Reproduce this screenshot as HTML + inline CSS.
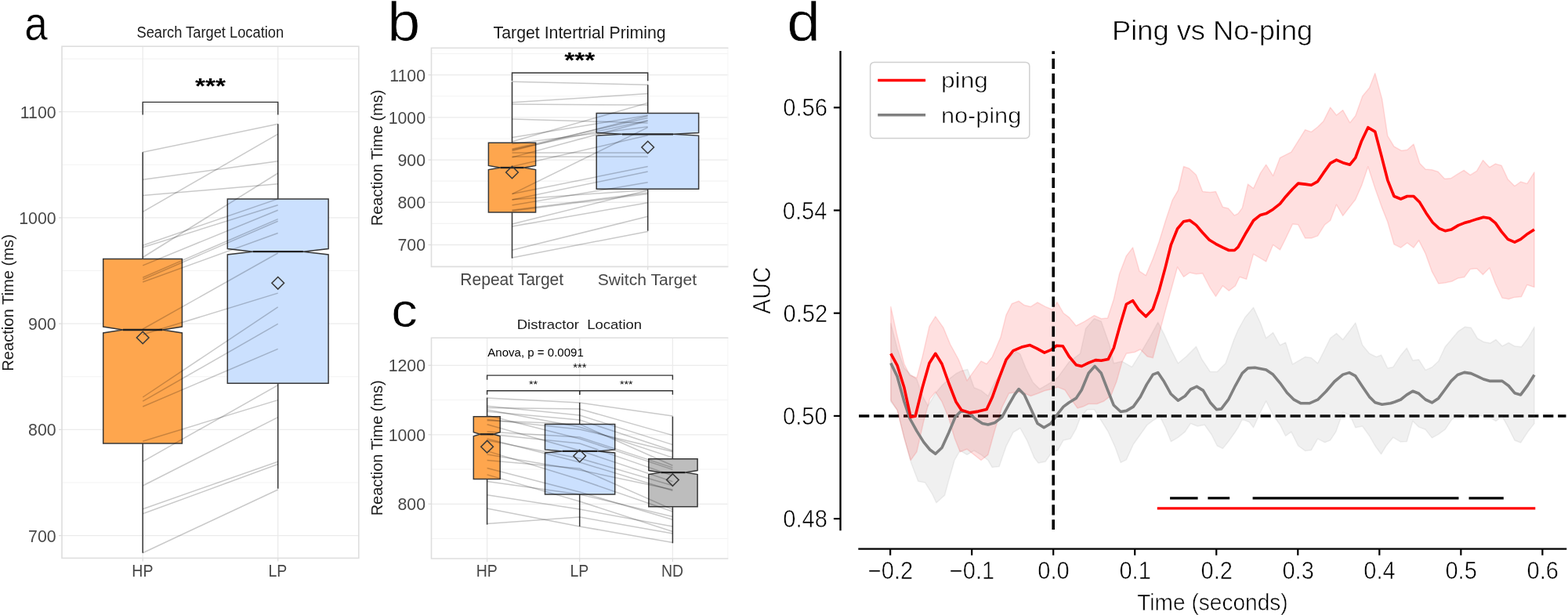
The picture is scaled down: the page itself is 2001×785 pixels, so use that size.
<!DOCTYPE html>
<html><head><meta charset="utf-8"><title>Figure</title>
<style>html,body{margin:0;padding:0;background:#fff;width:2001px;height:785px;overflow:hidden;}svg{display:block;}</style>
</head><body>
<svg width="2001" height="785" viewBox="0 0 2001 785" font-family='"Liberation Sans", Arial, sans-serif'>
<rect width="2001" height="785" fill="#fff"/>
<line x1="79" y1="616" x2="457.8" y2="616" stroke="#f3f3f3" stroke-width="1.1"/>
<line x1="79" y1="480.77" x2="457.8" y2="480.77" stroke="#f3f3f3" stroke-width="1.1"/>
<line x1="79" y1="345.54" x2="457.8" y2="345.54" stroke="#f3f3f3" stroke-width="1.1"/>
<line x1="79" y1="210.31" x2="457.8" y2="210.31" stroke="#f3f3f3" stroke-width="1.1"/>
<line x1="79" y1="75.08" x2="457.8" y2="75.08" stroke="#f3f3f3" stroke-width="1.1"/>
<line x1="79" y1="683.62" x2="457.8" y2="683.62" stroke="#ebebeb" stroke-width="1.3"/>
<line x1="79" y1="548.39" x2="457.8" y2="548.39" stroke="#ebebeb" stroke-width="1.3"/>
<line x1="79" y1="413.16" x2="457.8" y2="413.16" stroke="#ebebeb" stroke-width="1.3"/>
<line x1="79" y1="277.93" x2="457.8" y2="277.93" stroke="#ebebeb" stroke-width="1.3"/>
<line x1="79" y1="142.7" x2="457.8" y2="142.7" stroke="#ebebeb" stroke-width="1.3"/>
<line x1="182.2" y1="59.2" x2="182.2" y2="712.4" stroke="#ebebeb" stroke-width="1.3"/>
<line x1="354.7" y1="59.2" x2="354.7" y2="712.4" stroke="#ebebeb" stroke-width="1.3"/>
<rect x="79" y="59.2" width="378.8" height="653.2" fill="none" stroke="#dedede" stroke-width="1.6"/>
<line x1="182.2" y1="194.3" x2="182.2" y2="330.4" stroke="#383838" stroke-width="1.5"/>
<line x1="182.2" y1="566.1" x2="182.2" y2="705.7" stroke="#383838" stroke-width="1.5"/>
<polygon points="131.7,330.4 232.4,330.4 232.4,417 207.22,421 232.4,425 232.4,566.1 131.7,566.1 131.7,425 156.88,421 131.7,417" fill="#fea64e" stroke="#383838" stroke-width="1.5" stroke-linejoin="miter"/>
<line x1="156.88" y1="421" x2="207.22" y2="421" stroke="#222" stroke-width="2.3"/>
<line x1="354.7" y1="158.3" x2="354.7" y2="253.9" stroke="#383838" stroke-width="1.5"/>
<line x1="354.7" y1="489.2" x2="354.7" y2="623.7" stroke="#383838" stroke-width="1.5"/>
<polygon points="290.3,253.9 419.1,253.9 419.1,317.5 386.9,321.2 419.1,324.9 419.1,489.2 290.3,489.2 290.3,324.9 322.5,321.2 290.3,317.5" fill="#cbe0fe" stroke="#383838" stroke-width="1.5" stroke-linejoin="miter"/>
<line x1="322.5" y1="321.2" x2="386.9" y2="321.2" stroke="#222" stroke-width="2.3"/>
<polyline points="182.2,194.3 354.7,158.3" fill="none" stroke="#000" stroke-width="1.5" stroke-opacity="0.21"/>
<polyline points="182.2,270.4 354.7,171.1" fill="none" stroke="#000" stroke-width="1.5" stroke-opacity="0.21"/>
<polyline points="182.2,229.2 354.7,205.7" fill="none" stroke="#000" stroke-width="1.5" stroke-opacity="0.21"/>
<polyline points="182.2,249.6 354.7,234.8" fill="none" stroke="#000" stroke-width="1.5" stroke-opacity="0.21"/>
<polyline points="182.2,328.5 354.7,221" fill="none" stroke="#000" stroke-width="1.5" stroke-opacity="0.21"/>
<polyline points="182.2,313.2 354.7,253.9" fill="none" stroke="#000" stroke-width="1.5" stroke-opacity="0.21"/>
<polyline points="182.2,315.8 354.7,261.8" fill="none" stroke="#000" stroke-width="1.5" stroke-opacity="0.21"/>
<polyline points="182.2,338.9 354.7,268.2" fill="none" stroke="#000" stroke-width="1.5" stroke-opacity="0.21"/>
<polyline points="182.2,354.2 354.7,279.6" fill="none" stroke="#000" stroke-width="1.5" stroke-opacity="0.21"/>
<polyline points="182.2,356.8 354.7,282.2" fill="none" stroke="#000" stroke-width="1.5" stroke-opacity="0.21"/>
<polyline points="182.2,360 354.7,297.5" fill="none" stroke="#000" stroke-width="1.5" stroke-opacity="0.21"/>
<polyline points="182.2,420 354.7,323" fill="none" stroke="#000" stroke-width="1.5" stroke-opacity="0.21"/>
<polyline points="182.2,427 354.7,374.1" fill="none" stroke="#000" stroke-width="1.5" stroke-opacity="0.21"/>
<polyline points="182.2,507 354.7,391.9" fill="none" stroke="#000" stroke-width="1.5" stroke-opacity="0.21"/>
<polyline points="182.2,512.2 354.7,413.3" fill="none" stroke="#000" stroke-width="1.5" stroke-opacity="0.21"/>
<polyline points="182.2,519 354.7,445.4" fill="none" stroke="#000" stroke-width="1.5" stroke-opacity="0.21"/>
<polyline points="182.2,563.2 354.7,510.6" fill="none" stroke="#000" stroke-width="1.5" stroke-opacity="0.21"/>
<polyline points="182.2,589.2 354.7,491.6" fill="none" stroke="#000" stroke-width="1.5" stroke-opacity="0.21"/>
<polyline points="182.2,620 354.7,532.6" fill="none" stroke="#000" stroke-width="1.5" stroke-opacity="0.21"/>
<polyline points="182.2,649.7 354.7,589.2" fill="none" stroke="#000" stroke-width="1.5" stroke-opacity="0.21"/>
<polyline points="182.2,655.8 354.7,592.5" fill="none" stroke="#000" stroke-width="1.5" stroke-opacity="0.21"/>
<polyline points="182.2,705.7 354.7,625" fill="none" stroke="#000" stroke-width="1.5" stroke-opacity="0.21"/>
<polygon points="182.2,423.2 190,431 182.2,438.8 174.4,431" fill="none" stroke="#383838" stroke-width="1.5"/>
<polygon points="354.7,353.5 362.5,361.3 354.7,369.1 346.9,361.3" fill="none" stroke="#383838" stroke-width="1.5"/>
<polyline points="182.2,146.5 182.2,130.4 354.7,130.4 354.7,146.5" fill="none" stroke="#333" stroke-width="1.4"/>
<text transform="translate(248.92 118.78) scale(1.1841 1)" font-size="28.19" fill="#000" font-weight="bold">***</text>
<line x1="75" y1="683.62" x2="79" y2="683.62" stroke="#dcdcdc" stroke-width="1.3"/>
<text transform="translate(36.08 691.61) scale(1.0047 1)" font-size="21.20" fill="#474747">700</text>
<line x1="75" y1="548.39" x2="79" y2="548.39" stroke="#dcdcdc" stroke-width="1.3"/>
<text transform="translate(36.08 556.38) scale(1.0047 1)" font-size="21.20" fill="#474747">800</text>
<line x1="75" y1="413.16" x2="79" y2="413.16" stroke="#dcdcdc" stroke-width="1.3"/>
<text transform="translate(36.08 421.15) scale(1.0047 1)" font-size="21.20" fill="#474747">900</text>
<line x1="75" y1="277.93" x2="79" y2="277.93" stroke="#dcdcdc" stroke-width="1.3"/>
<text transform="translate(24.26 285.92) scale(1.0047 1)" font-size="21.20" fill="#474747">1000</text>
<line x1="75" y1="142.7" x2="79" y2="142.7" stroke="#dcdcdc" stroke-width="1.3"/>
<text transform="translate(25.8 150.69) scale(1.0047 1)" font-size="21.20" fill="#474747">1100</text>
<line x1="182.2" y1="712.4" x2="182.2" y2="716.4" stroke="#dcdcdc" stroke-width="1.3"/>
<text transform="translate(168.34 735.7) scale(0.9130 1)" font-size="21.38" fill="#474747">HP</text>
<line x1="354.7" y1="712.4" x2="354.7" y2="716.4" stroke="#dcdcdc" stroke-width="1.3"/>
<text transform="translate(342.47 735.7) scale(0.9130 1)" font-size="21.38" fill="#474747">LP</text>
<text transform="translate(174.43 47.85) scale(0.9244 1)" font-size="19.79" fill="#1a1a1a">Search Target Location</text>
<text transform="translate(16.9 473.76) rotate(-90) scale(0.9811 1)" font-size="20.55" fill="#1a1a1a">Reaction Time (ms)</text>
<text transform="translate(31.34 51.39) scale(0.8721 1)" font-size="61.00" fill="#000" stroke="#fff" stroke-width="0.6" stroke-linejoin="round">a</text>
<line x1="550.5" y1="339.61" x2="929.4" y2="339.61" stroke="#f3f3f3" stroke-width="1.1"/>
<line x1="550.5" y1="285.39" x2="929.4" y2="285.39" stroke="#f3f3f3" stroke-width="1.1"/>
<line x1="550.5" y1="231.16" x2="929.4" y2="231.16" stroke="#f3f3f3" stroke-width="1.1"/>
<line x1="550.5" y1="176.94" x2="929.4" y2="176.94" stroke="#f3f3f3" stroke-width="1.1"/>
<line x1="550.5" y1="122.71" x2="929.4" y2="122.71" stroke="#f3f3f3" stroke-width="1.1"/>
<line x1="550.5" y1="68.49" x2="929.4" y2="68.49" stroke="#f3f3f3" stroke-width="1.1"/>
<line x1="550.5" y1="312.5" x2="929.4" y2="312.5" stroke="#ebebeb" stroke-width="1.3"/>
<line x1="550.5" y1="258.27" x2="929.4" y2="258.27" stroke="#ebebeb" stroke-width="1.3"/>
<line x1="550.5" y1="204.05" x2="929.4" y2="204.05" stroke="#ebebeb" stroke-width="1.3"/>
<line x1="550.5" y1="149.82" x2="929.4" y2="149.82" stroke="#ebebeb" stroke-width="1.3"/>
<line x1="550.5" y1="95.6" x2="929.4" y2="95.6" stroke="#ebebeb" stroke-width="1.3"/>
<line x1="653.5" y1="61.2" x2="653.5" y2="340.5" stroke="#ebebeb" stroke-width="1.3"/>
<line x1="826.7" y1="61.2" x2="826.7" y2="340.5" stroke="#ebebeb" stroke-width="1.3"/>
<line x1="928.9" y1="61.2" x2="928.9" y2="340.5" stroke="#f7f7f7" stroke-width="1.2"/>
<polyline points="929.4,61.2 550.5,61.2 550.5,340.5 929.4,340.5" fill="none" stroke="#dedede" stroke-width="1.6"/>
<line x1="653.5" y1="104.5" x2="653.5" y2="182.2" stroke="#383838" stroke-width="1.5"/>
<line x1="653.5" y1="271" x2="653.5" y2="329.6" stroke="#383838" stroke-width="1.5"/>
<polygon points="623.4,182.2 683.6,182.2 683.6,211.4 668.55,214 683.6,216.6 683.6,271 623.4,271 623.4,216.6 638.45,214 623.4,211.4" fill="#fea64e" stroke="#383838" stroke-width="1.5" stroke-linejoin="miter"/>
<line x1="638.45" y1="214" x2="668.55" y2="214" stroke="#222" stroke-width="2.3"/>
<line x1="826.7" y1="108.3" x2="826.7" y2="144.5" stroke="#383838" stroke-width="1.5"/>
<line x1="826.7" y1="241.2" x2="826.7" y2="294.7" stroke="#383838" stroke-width="1.5"/>
<polygon points="761.2,144.5 891.6,144.5 891.6,169.5 859,171.3 891.6,173.1 891.6,241.2 761.2,241.2 761.2,173.1 793.8,171.3 761.2,169.5" fill="#cbe0fe" stroke="#383838" stroke-width="1.5" stroke-linejoin="miter"/>
<line x1="793.8" y1="171.3" x2="859" y2="171.3" stroke="#222" stroke-width="2.3"/>
<polyline points="653.5,104.3 826.7,108.2" fill="none" stroke="#000" stroke-width="1.5" stroke-opacity="0.21"/>
<polyline points="653.5,130.8 826.7,119.6" fill="none" stroke="#000" stroke-width="1.5" stroke-opacity="0.21"/>
<polyline points="653.5,133 826.7,134" fill="none" stroke="#000" stroke-width="1.5" stroke-opacity="0.21"/>
<polyline points="653.5,152.1 826.7,156.9" fill="none" stroke="#000" stroke-width="1.5" stroke-opacity="0.21"/>
<polyline points="653.5,175.4 826.7,147.3" fill="none" stroke="#000" stroke-width="1.5" stroke-opacity="0.21"/>
<polyline points="653.5,180.8 826.7,131.4" fill="none" stroke="#000" stroke-width="1.5" stroke-opacity="0.21"/>
<polyline points="653.5,191.3 826.7,153.7" fill="none" stroke="#000" stroke-width="1.5" stroke-opacity="0.21"/>
<polyline points="653.5,192.5 826.7,148" fill="none" stroke="#000" stroke-width="1.5" stroke-opacity="0.21"/>
<polyline points="653.5,199.9 826.7,199.9" fill="none" stroke="#000" stroke-width="1.5" stroke-opacity="0.21"/>
<polyline points="653.5,195.1 826.7,195.1" fill="none" stroke="#000" stroke-width="1.5" stroke-opacity="0.21"/>
<polyline points="653.5,212.6 826.7,172.8" fill="none" stroke="#000" stroke-width="1.5" stroke-opacity="0.21"/>
<polyline points="653.5,247.6 826.7,162.6" fill="none" stroke="#000" stroke-width="1.5" stroke-opacity="0.21"/>
<polyline points="653.5,247.6 826.7,212.4" fill="none" stroke="#000" stroke-width="1.5" stroke-opacity="0.21"/>
<polyline points="653.5,255 826.7,219" fill="none" stroke="#000" stroke-width="1.5" stroke-opacity="0.21"/>
<polyline points="653.5,262 826.7,232.7" fill="none" stroke="#000" stroke-width="1.5" stroke-opacity="0.21"/>
<polyline points="653.5,268.3 826.7,246" fill="none" stroke="#000" stroke-width="1.5" stroke-opacity="0.21"/>
<polyline points="653.5,285.9 826.7,242.9" fill="none" stroke="#000" stroke-width="1.5" stroke-opacity="0.21"/>
<polyline points="653.5,289 826.7,258.8" fill="none" stroke="#000" stroke-width="1.5" stroke-opacity="0.21"/>
<polyline points="653.5,319.3 826.7,276.3" fill="none" stroke="#000" stroke-width="1.5" stroke-opacity="0.21"/>
<polyline points="653.5,328.9 826.7,295.4" fill="none" stroke="#000" stroke-width="1.5" stroke-opacity="0.21"/>
<polyline points="653.5,183.8 826.7,161.8" fill="none" stroke="#000" stroke-width="1.5" stroke-opacity="0.21"/>
<polyline points="653.5,190.2 826.7,150.4" fill="none" stroke="#000" stroke-width="1.5" stroke-opacity="0.21"/>
<polyline points="653.5,200.9 826.7,154.2" fill="none" stroke="#000" stroke-width="1.5" stroke-opacity="0.21"/>
<polyline points="653.5,254.7 826.7,242.4" fill="none" stroke="#000" stroke-width="1.5" stroke-opacity="0.21"/>
<polyline points="653.5,269.2 826.7,247.5" fill="none" stroke="#000" stroke-width="1.5" stroke-opacity="0.21"/>
<polygon points="653.5,212.2 661.3,220 653.5,227.8 645.7,220" fill="none" stroke="#383838" stroke-width="1.5"/>
<polygon points="826.7,180.2 834.5,188 826.7,195.8 818.9,188" fill="none" stroke="#383838" stroke-width="1.5"/>
<polyline points="653.5,103.2 653.5,93 826.7,93 826.7,103.2" fill="none" stroke="#333" stroke-width="1.4"/>
<text transform="translate(720.32 85.68) scale(1.1841 1)" font-size="28.19" fill="#000" font-weight="bold">***</text>
<line x1="546.5" y1="312.5" x2="550.5" y2="312.5" stroke="#dcdcdc" stroke-width="1.3"/>
<text transform="translate(507.48 320.49) scale(1.0047 1)" font-size="21.20" fill="#474747">700</text>
<line x1="546.5" y1="258.27" x2="550.5" y2="258.27" stroke="#dcdcdc" stroke-width="1.3"/>
<text transform="translate(507.48 266.26) scale(1.0047 1)" font-size="21.20" fill="#474747">800</text>
<line x1="546.5" y1="204.05" x2="550.5" y2="204.05" stroke="#dcdcdc" stroke-width="1.3"/>
<text transform="translate(507.48 212.04) scale(1.0047 1)" font-size="21.20" fill="#474747">900</text>
<line x1="546.5" y1="149.82" x2="550.5" y2="149.82" stroke="#dcdcdc" stroke-width="1.3"/>
<text transform="translate(495.66 157.81) scale(1.0047 1)" font-size="21.20" fill="#474747">1000</text>
<line x1="546.5" y1="95.6" x2="550.5" y2="95.6" stroke="#dcdcdc" stroke-width="1.3"/>
<text transform="translate(497.2 103.59) scale(1.0047 1)" font-size="21.20" fill="#474747">1100</text>
<line x1="653.5" y1="340.5" x2="653.5" y2="344.5" stroke="#dcdcdc" stroke-width="1.3"/>
<text transform="translate(587.26 363.8) scale(0.9533 1)" font-size="22.11" fill="#474747">Repeat Target</text>
<line x1="826.7" y1="340.5" x2="826.7" y2="344.5" stroke="#dcdcdc" stroke-width="1.3"/>
<text transform="translate(762.75 363.8) scale(1.0082 1)" font-size="20.97" fill="#474747">Switch Target</text>
<text transform="translate(629.62 48.9) scale(0.9586 1)" font-size="22.21" fill="#1a1a1a">Target Intertrial Priming</text>
<text transform="translate(488.3 288.36) rotate(-90) scale(0.9771 1)" font-size="20.55" fill="#1a1a1a">Reaction Time (ms)</text>
<text transform="translate(494.29 51.5) scale(1.0741 1)" font-size="70.34" fill="#000" stroke="#fff" stroke-width="0.6" stroke-linejoin="round">b</text>
<line x1="550.5" y1="687.55" x2="929.3" y2="687.55" stroke="#f3f3f3" stroke-width="1.1"/>
<line x1="550.5" y1="599.05" x2="929.3" y2="599.05" stroke="#f3f3f3" stroke-width="1.1"/>
<line x1="550.5" y1="510.55" x2="929.3" y2="510.55" stroke="#f3f3f3" stroke-width="1.1"/>
<line x1="550.5" y1="643.3" x2="929.3" y2="643.3" stroke="#ebebeb" stroke-width="1.3"/>
<line x1="550.5" y1="554.8" x2="929.3" y2="554.8" stroke="#ebebeb" stroke-width="1.3"/>
<line x1="550.5" y1="466.3" x2="929.3" y2="466.3" stroke="#ebebeb" stroke-width="1.3"/>
<line x1="621.6" y1="431.2" x2="621.6" y2="713" stroke="#ebebeb" stroke-width="1.3"/>
<line x1="739.7" y1="431.2" x2="739.7" y2="713" stroke="#ebebeb" stroke-width="1.3"/>
<line x1="858.4" y1="431.2" x2="858.4" y2="713" stroke="#ebebeb" stroke-width="1.3"/>
<line x1="928.8" y1="431.2" x2="928.8" y2="713" stroke="#f7f7f7" stroke-width="1.2"/>
<polyline points="929.3,431.2 550.5,431.2 550.5,713 929.3,713" fill="none" stroke="#dedede" stroke-width="1.6"/>
<line x1="621.6" y1="507.6" x2="621.6" y2="531.8" stroke="#383838" stroke-width="1.5"/>
<line x1="621.6" y1="611.5" x2="621.6" y2="669.6" stroke="#383838" stroke-width="1.5"/>
<polygon points="604.3,531.8 638.2,531.8 638.2,551.7 629.73,554.3 638.2,556.9 638.2,611.5 604.3,611.5 604.3,556.9 612.77,554.3 604.3,551.7" fill="#fea64e" stroke="#383838" stroke-width="1.5" stroke-linejoin="miter"/>
<line x1="612.77" y1="554.3" x2="629.73" y2="554.3" stroke="#222" stroke-width="2.3"/>
<line x1="739.7" y1="514" x2="739.7" y2="541.4" stroke="#383838" stroke-width="1.5"/>
<line x1="739.7" y1="631" x2="739.7" y2="671.9" stroke="#383838" stroke-width="1.5"/>
<polygon points="695.5,541.4 784.7,541.4 784.7,573.9 762.4,575.9 784.7,577.9 784.7,631 695.5,631 695.5,577.9 717.8,575.9 695.5,573.9" fill="#cbe0fe" stroke="#383838" stroke-width="1.5" stroke-linejoin="miter"/>
<line x1="717.8" y1="575.9" x2="762.4" y2="575.9" stroke="#222" stroke-width="2.3"/>
<line x1="858.4" y1="531.6" x2="858.4" y2="585.7" stroke="#383838" stroke-width="1.5"/>
<line x1="858.4" y1="646.8" x2="858.4" y2="693.3" stroke="#383838" stroke-width="1.5"/>
<polygon points="827.8,585.7 890.1,585.7 890.1,600.6 874.52,603.1 890.1,605.6 890.1,646.8 827.8,646.8 827.8,605.6 843.38,603.1 827.8,600.6" fill="#bdbdbd" stroke="#383838" stroke-width="1.5" stroke-linejoin="miter"/>
<line x1="843.38" y1="603.1" x2="874.52" y2="603.1" stroke="#222" stroke-width="2.3"/>
<polyline points="621.6,508 739.7,514 858.4,531.1" fill="none" stroke="#000" stroke-width="1.5" stroke-opacity="0.21"/>
<polyline points="621.6,518.3 739.7,530 858.4,567.6" fill="none" stroke="#000" stroke-width="1.5" stroke-opacity="0.21"/>
<polyline points="621.6,520.6 739.7,522 858.4,555.6" fill="none" stroke="#000" stroke-width="1.5" stroke-opacity="0.21"/>
<polyline points="621.6,522.9 739.7,545 858.4,584.1" fill="none" stroke="#000" stroke-width="1.5" stroke-opacity="0.21"/>
<polyline points="621.6,525.2 739.7,536 858.4,575.2" fill="none" stroke="#000" stroke-width="1.5" stroke-opacity="0.21"/>
<polyline points="621.6,530 739.7,560 858.4,599.4" fill="none" stroke="#000" stroke-width="1.5" stroke-opacity="0.21"/>
<polyline points="621.6,535.5 739.7,548 858.4,576.5" fill="none" stroke="#000" stroke-width="1.5" stroke-opacity="0.21"/>
<polyline points="621.6,536.7 739.7,541.4 858.4,594.3" fill="none" stroke="#000" stroke-width="1.5" stroke-opacity="0.21"/>
<polyline points="621.6,541.7 739.7,575 858.4,614.7" fill="none" stroke="#000" stroke-width="1.5" stroke-opacity="0.21"/>
<polyline points="621.6,550.9 739.7,558 858.4,596.9" fill="none" stroke="#000" stroke-width="1.5" stroke-opacity="0.21"/>
<polyline points="621.6,553.9 739.7,566 858.4,607.1" fill="none" stroke="#000" stroke-width="1.5" stroke-opacity="0.21"/>
<polyline points="621.6,560.1 739.7,590 858.4,626.2" fill="none" stroke="#000" stroke-width="1.5" stroke-opacity="0.21"/>
<polyline points="621.6,561.9 739.7,585 858.4,619.8" fill="none" stroke="#000" stroke-width="1.5" stroke-opacity="0.21"/>
<polyline points="621.6,575.6 739.7,612 858.4,653" fill="none" stroke="#000" stroke-width="1.5" stroke-opacity="0.21"/>
<polyline points="621.6,580 739.7,600 858.4,624.9" fill="none" stroke="#000" stroke-width="1.5" stroke-opacity="0.21"/>
<polyline points="621.6,587.6 739.7,598 858.4,650.4" fill="none" stroke="#000" stroke-width="1.5" stroke-opacity="0.21"/>
<polyline points="621.6,597.4 739.7,628 858.4,663.2" fill="none" stroke="#000" stroke-width="1.5" stroke-opacity="0.21"/>
<polyline points="621.6,605.9 739.7,640 858.4,678.5" fill="none" stroke="#000" stroke-width="1.5" stroke-opacity="0.21"/>
<polyline points="621.6,614.6 739.7,631 858.4,659.4" fill="none" stroke="#000" stroke-width="1.5" stroke-opacity="0.21"/>
<polyline points="621.6,631.8 739.7,650 858.4,672.1" fill="none" stroke="#000" stroke-width="1.5" stroke-opacity="0.21"/>
<polyline points="621.6,649 739.7,671.9 858.4,692.5" fill="none" stroke="#000" stroke-width="1.5" stroke-opacity="0.21"/>
<polyline points="621.6,668.5 739.7,660 858.4,681" fill="none" stroke="#000" stroke-width="1.5" stroke-opacity="0.21"/>
<polygon points="621.6,562.4 629.4,570.2 621.6,578 613.8,570.2" fill="none" stroke="#383838" stroke-width="1.5"/>
<polygon points="739.7,574.2 747.5,582 739.7,589.8 731.9,582" fill="none" stroke="#383838" stroke-width="1.5"/>
<polygon points="858.4,604.8 866.2,612.6 858.4,620.4 850.6,612.6" fill="none" stroke="#383838" stroke-width="1.5"/>
<polyline points="621.6,484.7 621.6,479.1 858.4,479.1 858.4,484.7" fill="none" stroke="#333" stroke-width="1.4"/>
<polyline points="621.6,503.8 621.6,498.7 739.7,498.7 739.7,503.8" fill="none" stroke="#333" stroke-width="1.4"/>
<polyline points="739.7,503.8 739.7,498.7 858.4,498.7 858.4,503.8" fill="none" stroke="#333" stroke-width="1.4"/>
<text transform="translate(731.34 474.43) scale(1.0817 1)" font-size="13.71" fill="#000">***</text>
<text transform="translate(674.95 494.63) scale(1.0570 1)" font-size="13.71" fill="#000">**</text>
<text transform="translate(790.95 494.63) scale(1.0430 1)" font-size="13.71" fill="#000">***</text>
<text transform="translate(622.26 454.8) scale(0.9808 1)" font-size="15.34" fill="#000">Anova, p = 0.0091</text>
<line x1="546.5" y1="643.3" x2="550.5" y2="643.3" stroke="#dcdcdc" stroke-width="1.3"/>
<text transform="translate(507.48 651.29) scale(1.0047 1)" font-size="21.20" fill="#474747">800</text>
<line x1="546.5" y1="554.8" x2="550.5" y2="554.8" stroke="#dcdcdc" stroke-width="1.3"/>
<text transform="translate(495.66 562.79) scale(1.0047 1)" font-size="21.20" fill="#474747">1000</text>
<line x1="546.5" y1="466.3" x2="550.5" y2="466.3" stroke="#dcdcdc" stroke-width="1.3"/>
<text transform="translate(495.66 474.29) scale(1.0047 1)" font-size="21.20" fill="#474747">1200</text>
<line x1="621.6" y1="713" x2="621.6" y2="717" stroke="#dcdcdc" stroke-width="1.3"/>
<text transform="translate(607.74 735.5) scale(0.9130 1)" font-size="21.38" fill="#474747">HP</text>
<line x1="739.7" y1="713" x2="739.7" y2="717" stroke="#dcdcdc" stroke-width="1.3"/>
<text transform="translate(727.47 735.5) scale(0.9130 1)" font-size="21.38" fill="#474747">LP</text>
<line x1="858.4" y1="713" x2="858.4" y2="717" stroke="#dcdcdc" stroke-width="1.3"/>
<text transform="translate(843.95 735.5) scale(0.9130 1)" font-size="21.38" fill="#474747">ND</text>
<text transform="translate(659.67 419.53) scale(1.0980 1)" font-size="16.87" fill="#1a1a1a" xml:space="preserve">Distractor  Location</text>
<text transform="translate(488.4 658.35) rotate(-90) scale(0.9650 1)" font-size="20.69" fill="#1a1a1a">Reaction Time (ms)</text>
<text transform="translate(499.34 416.78) scale(1.0887 1)" font-size="61.74" fill="#000" stroke="#fff" stroke-width="0.6" stroke-linejoin="round">c</text>
<line x1="1096.1" y1="531" x2="1998.5" y2="531" stroke="#000" stroke-width="3.4" stroke-dasharray="13.2 5.78"/>
<polygon points="1136.8,412.8 1145,444.9 1153.9,469.9 1162.8,478.8 1169.9,484.1 1177.1,505.5 1184.2,518 1193.8,502 1202.7,491.3 1210.9,484.1 1219.9,477 1227,473.4 1234.8,471.6 1243,494.8 1252,498.4 1260.9,505.5 1269.8,487.7 1278.7,473.4 1287.6,457.4 1296.5,448.5 1301.9,452 1309,469.9 1317.9,487.7 1326.8,496.6 1335.8,491.3 1344.7,485.9 1350,481.6 1364.3,462 1378.5,451.3 1385.7,419.2 1396.4,406.7 1405.3,410.3 1416,440.6 1421.3,463.8 1432,461.3 1444.5,468.4 1455.2,451.3 1467.7,429.9 1477.7,411.4 1485.5,426.4 1494.4,446 1503.4,463.8 1514,454.9 1526.5,442.4 1533.7,458.5 1544.4,474.5 1553.3,474.5 1564,463.8 1574.7,433.5 1580,421 1588.9,405 1599.6,392.5 1608.5,412.1 1615.7,431.7 1624.6,424.6 1633.5,440.6 1640.6,437.1 1649.5,464.9 1665.6,455.6 1673.4,456.7 1681.6,463.8 1690.6,446 1697.7,431.7 1705.5,425.6 1713.7,433.5 1721.9,422.8 1729.8,412.1 1738.7,440.6 1747.6,451.3 1756.5,455.6 1762.6,453.1 1770.8,469.9 1777.9,468.4 1787.6,453.4 1795.3,444.2 1802.9,460.1 1810.6,458.9 1819.1,472.4 1827.4,468.7 1835.7,461 1844.2,442.7 1852.8,432.6 1861,422.8 1869.3,417.3 1877.2,418.2 1885.5,432 1893.8,436.6 1901.7,438.1 1909,433.5 1917,441.8 1925.3,437.5 1932.9,441.8 1941.5,442.7 1949.7,432 1958,417.3 1958,540.6 1949.7,551.3 1940.6,565 1932.9,562 1925.3,546.7 1917,531.4 1909,537.5 1901.7,532.9 1893.8,531.4 1885.5,529.8 1877.2,534.4 1869.3,529.8 1861,531.4 1852.8,535.4 1844.2,548.2 1835.7,554.3 1827.4,558.9 1819.1,548.2 1810.6,545.1 1802.9,537.5 1795.3,563.5 1787.6,564.1 1777.9,558.3 1769,569 1762.6,579.7 1754.8,569 1747.6,556.5 1738.7,544.1 1729.8,545.8 1722.7,529.8 1713.7,526.2 1704.8,551.2 1697.7,561.9 1690.6,564.7 1681.6,560.1 1673.4,574.4 1665.6,575.4 1656.7,569 1647.8,551.2 1640.6,556.5 1633.5,542.3 1624.6,529.8 1615.7,512 1608.5,526.2 1599.6,545.8 1594.3,538.7 1585.3,535.1 1580,545.8 1576.5,551.2 1567.5,563.7 1560.4,572.6 1553.3,569 1546.1,554.8 1537.2,542.3 1528.3,544.1 1519.4,540.5 1512.3,551.2 1503.4,558.3 1494.4,563.7 1487.3,545.8 1480.2,531.6 1471.3,536.9 1464.1,542.3 1455.2,554.8 1446.3,567.2 1437.4,586.8 1430.2,590.4 1423.1,570.8 1414.2,551.2 1405.3,536.9 1396.4,522.7 1387.4,522.7 1378.5,533.4 1373.2,547.6 1366,560.1 1357.1,561.9 1350,574.4 1342.9,576.8 1334,589.3 1325,591.1 1319.7,584 1310.8,562.6 1301.9,546.5 1293,551.9 1284,569.7 1275.1,595.4 1266.2,596.5 1260.9,587.5 1252,580.4 1243,575.1 1234.1,580.4 1225.2,575.1 1218.1,587.5 1210.9,612.5 1205.6,632.1 1194.9,641.8 1189.5,630.3 1180.6,616.1 1171.7,614.3 1162.8,591.1 1153.9,559 1145,523.4 1136.8,512.7" fill="#808080" stroke="#808080" stroke-width="1.5" fill-opacity="0.12" stroke-opacity="0.12" stroke-linejoin="round"/>
<polygon points="1136.8,391.4 1145,428.8 1153.9,464.5 1161,478.8 1169.9,482.3 1177.1,455.6 1186,416.4 1193.8,403.9 1203.8,418.1 1212.7,439.5 1223.4,459.2 1234.1,485.9 1243,473.4 1252,460.9 1259.1,464.5 1266.2,455.6 1276.9,430.6 1284,402.1 1291.2,387.8 1300.1,384.3 1307.2,389.6 1315.4,391.4 1324,386 1334,391.4 1342.9,395 1349,385.7 1357.1,399.7 1364.3,405.1 1373.2,415.8 1383.9,410.4 1396.4,402.6 1405.3,406.8 1413.5,406.1 1421.3,381.9 1428.5,349.8 1437.4,326.6 1445.6,315.9 1454.1,346.2 1462.3,351.6 1471.3,330.2 1479.1,308.8 1487.3,282 1496.2,255.3 1503.4,242.8 1510.5,212.5 1517.6,215 1526.5,223.2 1534.7,244.6 1544.4,245.6 1551.5,244.6 1560.4,264.2 1567.5,266 1575.4,274.9 1580,272.6 1585.3,265.4 1592.5,235.1 1599.6,240.5 1608.5,220.9 1615.7,210.2 1624.6,224.4 1633.5,201.3 1647.8,194.1 1656.7,179.9 1665.6,165.6 1673.4,168.4 1681.6,162 1688.8,154.9 1697.7,137.1 1705.5,147 1713.7,140.6 1722.7,156.7 1729.8,147.8 1738.7,122.8 1747.6,112.1 1754.8,93.6 1763.7,126.4 1770.8,173.4 1779,187 1788.6,192.3 1795.8,191.3 1804,184.1 1811.8,208.4 1819.1,216.1 1827.4,216.7 1835,219.1 1843.6,228.3 1851.9,227.4 1860.1,222.2 1868.1,217.3 1876.3,223.4 1884.6,218.2 1892.5,204.5 1900.8,213.6 1908.4,209.1 1916.1,211.2 1924.3,228.9 1932.9,237.5 1940.6,232 1948.8,234.4 1958,219.8 1958,366.5 1948.8,363.5 1941.5,378.8 1932.9,379.4 1925.3,381.8 1917,380.3 1908.4,362 1900.8,342.1 1892.5,350.6 1884.6,342.7 1876.3,343.6 1868.7,353.7 1861,354.9 1853.4,358.9 1844.2,361 1835.7,362 1827.4,346.7 1819.1,323.7 1810.6,306.9 1804,316.1 1795.8,310 1787.6,316.1 1779,311.8 1770.8,283.3 1763.7,265.4 1754.8,240.5 1745.8,212.7 1737.6,236.9 1729.8,254.8 1722.7,263.7 1713.7,275.4 1705.5,261.2 1697.7,281.5 1690.6,286.8 1681.6,301.1 1673.4,304 1665.6,304 1656.7,286.8 1649.5,286.1 1640.6,304.7 1633.5,318.9 1624.6,312.5 1615.7,333.9 1608.5,329.6 1599.6,324.3 1590.7,356.4 1582,353.5 1576.5,364.8 1568.3,371.2 1560.4,364.8 1551.5,378.3 1544.4,367.6 1534.7,349.1 1526.5,349.8 1518.3,348 1510.5,353.4 1502.6,340.9 1496.2,364 1487.3,396.1 1480.2,422.8 1471.3,456.7 1464.1,454.9 1455.2,446 1448.1,449.5 1437.4,451.3 1432,462 1424.9,487 1417.8,504.8 1408.8,512 1399.9,515.5 1389.2,515.5 1382.1,519.1 1375,520.9 1366,508.4 1358.9,497.7 1350,494.1 1342.9,496.6 1334,498.4 1325,502 1315.4,505.5 1307.2,502 1298.3,500.2 1287.6,502 1278.7,519.8 1269.8,548.3 1260.9,580.4 1252,587.5 1243,580.4 1234.1,573.3 1225.2,576.8 1218.1,559 1210.9,534 1202,512.7 1193.8,500.2 1186.7,509.1 1178.8,537.6 1169.9,576.8 1162.1,587.5 1153.9,559 1145,523.4 1136.8,510.9" fill="#ff0000" stroke="#ff0000" stroke-width="1.5" fill-opacity="0.12" stroke-opacity="0.12" stroke-linejoin="round"/>
<polyline points="1136.8,463.4 1145,480.6 1153.9,512.7 1161,534 1169.9,550.1 1178.8,564.4 1186.7,574 1193.8,579.3 1202,571.5 1210.9,551.9 1219.1,532.3 1227,524.1 1235.9,526.9 1244.8,534.8 1253.7,540.5 1260.9,541.9 1269.8,539.4 1278.7,532.3 1287.6,516.2 1294.8,503.7 1300.1,496.6 1307.2,503.7 1315.4,521.6 1324,540.5 1332.2,545.8 1341.1,540.5 1350,528 1357.1,519.1 1364.3,513.7 1373.2,508.4 1380.3,497.7 1389.2,476.3 1397.1,467.4 1405.3,476.3 1413.5,497.7 1421.3,517.3 1430.2,525.5 1437.4,524.4 1446.3,519.1 1455.2,506.6 1463.4,490.6 1471.3,478.1 1477.7,475.6 1485.5,487 1494.4,503 1503.4,511.2 1512.3,505.5 1519.4,497 1527.2,493.4 1535.4,498.4 1544.4,513.7 1552.6,522.7 1558.6,521.9 1567.5,510.2 1576.5,492.3 1585.3,476.3 1592.5,469.9 1601.4,469.2 1615.7,472 1624.6,478.1 1633.5,488.8 1642.4,501.3 1651.3,510.2 1660.2,514.8 1670.9,514.8 1681.6,510.2 1692.3,499.5 1703,487 1713.7,478.1 1721.9,475.6 1729.8,479.9 1738.7,493.4 1747.6,506.6 1754.8,513.7 1763.7,516.2 1774.4,514.8 1780,513 1787.6,510 1795.3,503.9 1802.9,499.3 1810.6,502.3 1819.1,510 1827.4,513.9 1835.7,508.4 1843.6,497.7 1851.9,486.4 1860.1,478.5 1868.7,475.4 1877.2,476.6 1885.5,480.3 1893.1,484 1901.7,486.4 1909,486.4 1917,486.4 1925.3,492.5 1932.9,501.7 1940.6,503.9 1949.7,491.6 1958,478.5" fill="none" stroke="#808080" stroke-width="3.6" stroke-linejoin="round" stroke-linecap="butt"/>
<polyline points="1136.8,451.3 1145,466.3 1153.9,494.8 1162.1,532.3 1168.1,531.2 1177.1,494.8 1186,463.4 1193.8,451.3 1202,464.5 1210.9,489.5 1219.9,512.7 1227,523.4 1237.7,526.9 1248.4,525.1 1259.1,522.6 1266.2,507.3 1275.1,482.3 1284,459.2 1293,447.7 1303.7,443.1 1314.4,440.6 1323.3,444.9 1332.9,450.2 1341.1,446.7 1348.2,441.3 1356.4,441.8 1364.3,455 1373.2,465.7 1380.3,467.5 1389.2,463.2 1398.1,459.6 1405.3,460.3 1414.2,458.6 1421.3,444.3 1429.2,415.8 1437.4,388.3 1445.6,383.7 1453.4,395.4 1462.3,404 1471.3,394.4 1479.1,371.2 1487.3,340.9 1494.4,312.3 1502.6,292 1510.5,282.7 1518.3,281.3 1526.5,287.4 1534.7,297 1543.3,306.3 1551.5,311.3 1560.4,315.9 1568.3,319.5 1575.4,319.5 1580,315.4 1588.9,299.3 1599.6,281.5 1608.5,274.4 1615.7,272.6 1624.6,267.2 1633.5,260.1 1640.6,251.2 1649.5,241.2 1656.7,234.1 1665.6,235.1 1673.4,236.2 1681.6,231.6 1688.8,220.9 1697.7,208.4 1705.5,204.1 1713.7,207.7 1722.7,210.2 1729.8,201.3 1737.6,179.9 1745.8,162.7 1754.8,168.1 1762.6,197.7 1770.8,229.8 1779,250.5 1787.6,254 1795.8,250.5 1804,250.5 1811.8,258.3 1819.8,271.7 1828.3,284 1836.6,291.6 1844.2,294.7 1851.9,293.1 1861,287.6 1868.7,284.6 1876.3,282.4 1885.5,279.4 1893.1,277.2 1900.8,278.5 1908.4,284.6 1916.1,295.6 1924.3,305.4 1932.9,309.1 1940.6,305.4 1948.2,299.3 1958,293.1" fill="none" stroke="#ff0000" stroke-width="3.6" stroke-linejoin="round" stroke-linecap="butt"/>
<line x1="1344.2" y1="65.3" x2="1344.2" y2="675.9" stroke="#000" stroke-width="3.6" stroke-dasharray="13.2 5.784" stroke-dashoffset="9.48"/>
<line x1="1493.1" y1="635.8" x2="1528.6" y2="635.8" stroke="#000" stroke-width="3.2"/>
<line x1="1541.4" y1="635.8" x2="1569.2" y2="635.8" stroke="#000" stroke-width="3.2"/>
<line x1="1598.6" y1="635.8" x2="1861.5" y2="635.8" stroke="#000" stroke-width="3.2"/>
<line x1="1874.5" y1="635.8" x2="1918.8" y2="635.8" stroke="#000" stroke-width="3.2"/>
<line x1="1476.8" y1="648.8" x2="1959.3" y2="648.8" stroke="#ff0000" stroke-width="3.2"/>
<line x1="1072.5" y1="65" x2="1072.5" y2="677.3" stroke="#000" stroke-width="2.3"/>
<line x1="1095.3" y1="700.6" x2="1999.3" y2="700.6" stroke="#000" stroke-width="2.3"/>
<line x1="1063.9" y1="662.1" x2="1072.5" y2="662.1" stroke="#000" stroke-width="2.2"/>
<text transform="translate(999.26 673.27) scale(0.9545 1)" font-size="30.46" fill="#000" stroke="#fff" stroke-width="0.55" stroke-linejoin="round">0.48</text>
<line x1="1063.9" y1="530.9" x2="1072.5" y2="530.9" stroke="#000" stroke-width="2.2"/>
<text transform="translate(999.12 542.07) scale(0.9545 1)" font-size="30.46" fill="#000" stroke="#fff" stroke-width="0.55" stroke-linejoin="round">0.50</text>
<line x1="1063.9" y1="399.7" x2="1072.5" y2="399.7" stroke="#000" stroke-width="2.2"/>
<text transform="translate(999.48 410.87) scale(0.9545 1)" font-size="30.46" fill="#000" stroke="#fff" stroke-width="0.55" stroke-linejoin="round">0.52</text>
<line x1="1063.9" y1="268.5" x2="1072.5" y2="268.5" stroke="#000" stroke-width="2.2"/>
<text transform="translate(998.83 279.67) scale(0.9545 1)" font-size="30.46" fill="#000" stroke="#fff" stroke-width="0.55" stroke-linejoin="round">0.54</text>
<line x1="1063.9" y1="137.3" x2="1072.5" y2="137.3" stroke="#000" stroke-width="2.2"/>
<text transform="translate(999.26 148.47) scale(0.9545 1)" font-size="30.46" fill="#000" stroke="#fff" stroke-width="0.55" stroke-linejoin="round">0.56</text>
<line x1="1136.14" y1="700.6" x2="1136.14" y2="708.8" stroke="#000" stroke-width="2.2"/>
<text transform="translate(1107.77 739.22) scale(0.9545 1)" font-size="30.46" fill="#000" stroke="#fff" stroke-width="0.55" stroke-linejoin="round">−0.2</text>
<line x1="1240.17" y1="700.6" x2="1240.17" y2="708.8" stroke="#000" stroke-width="2.2"/>
<text transform="translate(1211.76 739.22) scale(0.9545 1)" font-size="30.46" fill="#000" stroke="#fff" stroke-width="0.55" stroke-linejoin="round">−0.1</text>
<line x1="1344.2" y1="700.6" x2="1344.2" y2="708.8" stroke="#000" stroke-width="2.2"/>
<text transform="translate(1324.26 739.22) scale(0.9545 1)" font-size="30.46" fill="#000" stroke="#fff" stroke-width="0.55" stroke-linejoin="round">0.0</text>
<line x1="1448.23" y1="700.6" x2="1448.23" y2="708.8" stroke="#000" stroke-width="2.2"/>
<text transform="translate(1428.43 739.22) scale(0.9545 1)" font-size="30.46" fill="#000" stroke="#fff" stroke-width="0.55" stroke-linejoin="round">0.1</text>
<line x1="1552.26" y1="700.6" x2="1552.26" y2="708.8" stroke="#000" stroke-width="2.2"/>
<text transform="translate(1532.5 739.22) scale(0.9545 1)" font-size="30.46" fill="#000" stroke="#fff" stroke-width="0.55" stroke-linejoin="round">0.2</text>
<line x1="1656.29" y1="700.6" x2="1656.29" y2="708.8" stroke="#000" stroke-width="2.2"/>
<text transform="translate(1636.42 739.22) scale(0.9545 1)" font-size="30.46" fill="#000" stroke="#fff" stroke-width="0.55" stroke-linejoin="round">0.3</text>
<line x1="1760.32" y1="700.6" x2="1760.32" y2="708.8" stroke="#000" stroke-width="2.2"/>
<text transform="translate(1740.23 739.22) scale(0.9545 1)" font-size="30.46" fill="#000" stroke="#fff" stroke-width="0.55" stroke-linejoin="round">0.4</text>
<line x1="1864.35" y1="700.6" x2="1864.35" y2="708.8" stroke="#000" stroke-width="2.2"/>
<text transform="translate(1844.44 739.22) scale(0.9545 1)" font-size="30.46" fill="#000" stroke="#fff" stroke-width="0.55" stroke-linejoin="round">0.5</text>
<line x1="1968.38" y1="700.6" x2="1968.38" y2="708.8" stroke="#000" stroke-width="2.2"/>
<text transform="translate(1948.51 739.22) scale(0.9545 1)" font-size="30.46" fill="#000" stroke="#fff" stroke-width="0.55" stroke-linejoin="round">0.6</text>
<text transform="translate(1451.19 778.8) scale(0.9271 1)" font-size="30.31" fill="#000" stroke="#fff" stroke-width="0.55" stroke-linejoin="round">Time (seconds)</text>
<text transform="translate(982.56 400.65) rotate(-90) scale(0.9153 1)" font-size="31.02" fill="#000" stroke="#fff" stroke-width="0.55" stroke-linejoin="round">AUC</text>
<text transform="translate(1418.9 50.7) scale(1.0292 1)" font-size="35.31" fill="#000" stroke="#fff" stroke-width="0.6" stroke-linejoin="round">Ping vs No-ping</text>
<text transform="translate(1004.24 51.5) scale(1.0899 1)" font-size="70.34" fill="#000" stroke="#fff" stroke-width="0.6" stroke-linejoin="round">d</text>
<rect x="1110.6" y="79.4" width="203.2" height="97" rx="5" ry="5" fill="#fff" fill-opacity="0.8" stroke="#d0d0d0" stroke-width="1.5"/>
<line x1="1120.2" y1="102.4" x2="1181.1" y2="102.4" stroke="#ff0000" stroke-width="3.5"/>
<line x1="1120.2" y1="146.8" x2="1181.1" y2="146.8" stroke="#808080" stroke-width="3.5"/>
<text transform="translate(1200.97 112.2) scale(1.1444 1)" font-size="27.69" fill="#000" stroke="#fff" stroke-width="0.55" stroke-linejoin="round">ping</text>
<text transform="translate(1200.96 156.6) scale(1.1071 1)" font-size="27.69" fill="#000" stroke="#fff" stroke-width="0.55" stroke-linejoin="round">no-ping</text>
</svg>
</body></html>
